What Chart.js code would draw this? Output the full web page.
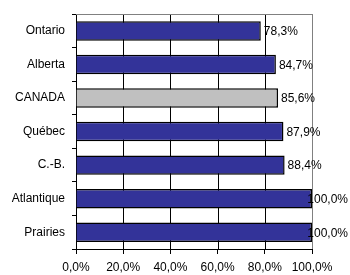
<!DOCTYPE html>
<html><head><meta charset="utf-8">
<script src="https://cdn.jsdelivr.net/npm/chart.js@4"></script>
<style>html,body{margin:0;padding:0;background:#fff}#w{width:350px;height:275px}</style>
</head><body><div id="w"><canvas id="c" width="350" height="275"></canvas></div>
<script>
const categories = ["Ontario","Alberta","CANADA","Québec","C.-B.","Atlantique","Prairies"];
const values = [78.3, 84.7, 85.6, 87.9, 88.4, 100.0, 100.0];
const barColors = ["#333399","#333399","#C0C0C0","#333399","#333399","#333399","#333399"];
const xMin = 0, xMax = 100, xStep = 20;

const FONT = '"Liberation Sans", Arial, sans-serif';
const fmt = v => Number(v).toFixed(1).replace('.', ',') + '%';

const plotGrid = {
  id:'plotGrid',
  beforeDatasetsDraw(chart){
    const {ctx, chartArea:a} = chart;
    const xs = chart.scales.x;
    ctx.save();
    ctx.lineWidth = 1;
    xs.ticks.forEach(t=>{
      const px = Math.round(xs.getPixelForValue(t.value)) + 0.5;
      ctx.strokeStyle = (t.value === xMax) ? '#808080' : '#000000';
      ctx.beginPath();
      ctx.moveTo(px, a.top); ctx.lineTo(px, a.bottom);
      ctx.stroke();
    });
    ctx.strokeStyle='#808080';
    ctx.beginPath();
    ctx.moveTo(a.left, Math.round(a.top)+0.5);
    ctx.lineTo(Math.round(xs.getPixelForValue(xMax))+1, Math.round(a.top)+0.5);
    ctx.stroke();
    ctx.restore();
  }
};
const valueLabels = {
  id:'valueLabels',
  afterDatasetsDraw(chart){
    const {ctx} = chart;
    const meta = chart.getDatasetMeta(0);
    ctx.save();
    ctx.font = '12px ' + FONT;
    ctx.fillStyle = '#000';
    ctx.textBaseline = 'middle';
    meta.data.forEach((bar,i)=>{
      const t = fmt(values[i]);
      const w = ctx.measureText(t).width;
      let x = bar.x + 3;
      if (x + w > chart.width - 2) x = chart.width - 2 - w;
      ctx.fillText(t, x, bar.y + 1);
    });
    ctx.restore();
  }
};

new Chart(document.getElementById('c'), {
  type:'bar',
  data:{ labels: categories, datasets:[{ data: values, backgroundColor: barColors, borderColor:'#000', borderWidth:1.5, categoryPercentage:0.58, barPercentage:1.0 }]},
  options:{
    indexAxis:'y', responsive:false, animation:false,
    layout:{ padding:{ top:8, right:38, left:0, bottom:0 } },
    plugins:{ legend:{display:false}, tooltip:{enabled:false} },
    scales:{
      x:{ min:xMin, max:xMax,
          afterFit(s){ s.height = 26; },
          ticks:{ stepSize:xStep, callback:v=>fmt(v), color:'#000', font:{family:FONT, size:12}, padding:6, maxRotation:0 },
          grid:{ color:'#000', tickLength:5, lineWidth:1, drawOnChartArea:false },
          border:{ color:'#000', width:1 }
      },
      y:{
          afterFit(s){ s.width = 76; },
          ticks:{ color:'#000', font:{family:FONT, size:12}, padding:7 },
          grid:{ offset:true, drawOnChartArea:false, color:'#000', tickLength:4 },
          border:{ color:'#000', width:1 }
      }
    }
  },
  plugins:[plotGrid, valueLabels]
});
</script></body></html>
